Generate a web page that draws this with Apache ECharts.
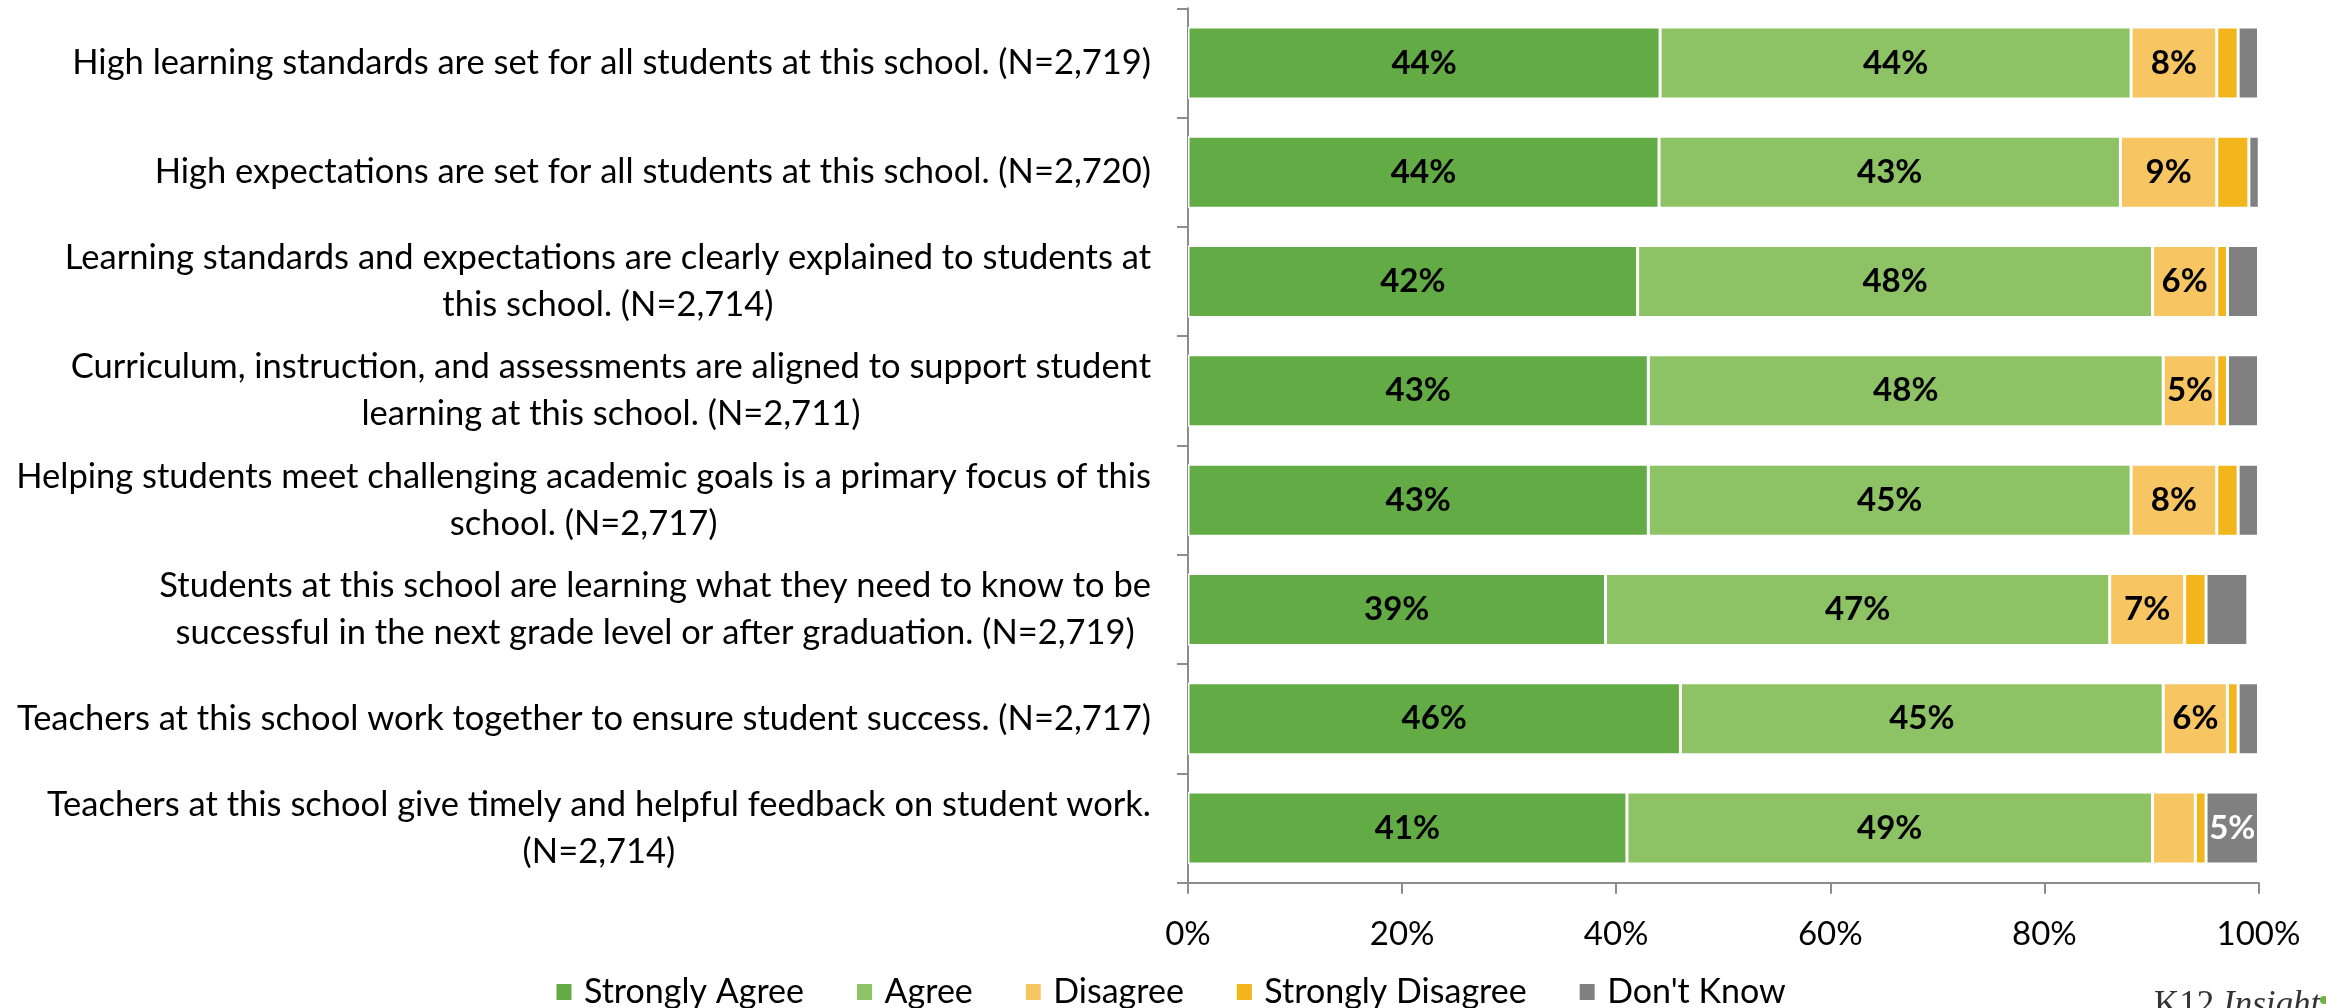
<!DOCTYPE html>
<html>
<head>
<meta charset="utf-8">
<script src="https://cdn.jsdelivr.net/npm/echarts@6/dist/echarts.min.js"></script>
<style>
  html, body { margin: 0; padding: 0; background: #fff; }
  #chart { width: 2326px; height: 1008px; }
</style>
</head>
<body>
<div id="chart"></div>
<script>
// ---- data ----
const categories = [
  "High learning standards are set for all students at this school. (N=2,719)",
  "High expectations are set for all students at this school. (N=2,720)",
  "Learning standards and expectations are clearly explained to students at\nthis school. (N=2,714)",
  "Curriculum, instruction, and assessments are aligned to support student\nlearning at this school. (N=2,711)",
  "Helping students meet challenging academic goals is a primary focus of this\nschool. (N=2,717)",
  "Students at this school are learning what they need to know to be\nsuccessful in the next grade level or after graduation. (N=2,719)",
  "Teachers at this school work together to ensure student success. (N=2,717)",
  "Teachers at this school give timely and helpful feedback on student work.\n(N=2,714)"
];
const seriesNames = ["Strongly Agree", "Agree", "Disagree", "Strongly Disagree", "Don't Know"];
const stronglyAgree    = [44.1, 44.0, 42.0, 43.0, 43.0, 39.0, 46.0, 41.0];
const agree            = [44.0, 43.1, 48.1, 48.1, 45.1, 47.1, 45.1, 49.1];
const disagree         = [8.0, 9.0, 6.0, 5.0, 8.0, 7.0, 6.0, 4.0];
const stronglyDisagree = [2.0, 3.0, 1.0, 1.0, 2.0, 2.0, 1.0, 1.0];
const dontKnow         = [1.9, 1.2, 2.9, 2.9, 1.9, 3.9, 1.9, 4.9];
const xTicks = [0, 20, 40, 60, 80, 100];

// ---- style ----
const FONT = 'Lato';
const colors = ['#62AB45', '#8DC365', '#F7C562', '#F2B61C', '#808080'];
const labelColors = ['#000', '#000', '#000', '#000', '#fff'];
const axisGray = '#8C8C8C';

const seriesData = [stronglyAgree, agree, disagree, stronglyDisagree, dontKnow];

const chart = echarts.init(document.getElementById('chart'), null, { renderer: 'canvas' });

const option = {
  animation: false,
  textStyle: { fontFamily: FONT },
  grid: { left: 1188, right: 67.5, top: 8.3, bottom: 1008 - 882.7, containLabel: false },
  xAxis: {
    type: 'value',
    min: xTicks[0],
    max: xTicks[xTicks.length - 1],
    interval: 20,
    axisLine: { show: true, lineStyle: { color: axisGray, width: 2 } },
    axisTick: { show: true, length: 11, lineStyle: { color: axisGray, width: 2 } },
    splitLine: { show: false },
    axisLabel: {
      margin: 35,
      color: '#000',
      fontFamily: FONT,
      fontSize: 33,
      formatter: v => v + '%'
    }
  },
  yAxis: {
    type: 'category',
    inverse: true,
    data: categories,
    axisLine: { show: true, lineStyle: { color: axisGray, width: 2 } },
    axisTick: { show: true, length: 11, lineStyle: { color: axisGray, width: 2 } },
    axisLabel: {
      margin: 37,
      color: '#000',
      align: 'right',
      formatter: v => v.split('\n').map(l => '{c|' + l + '}').join('\n'),
      rich: {
        c: { align: 'center', fontFamily: FONT, fontSize: 34.5, lineHeight: 47, color: '#000' }
      }
    }
  },
  legend: {
    left: 549.5,
    top: 970,
    itemWidth: 30,
    itemHeight: 18,
    itemGap: 51,
    icon: 'path://M0,0h17v18h-17z',
    textStyle: { fontFamily: FONT, fontSize: 34, color: '#000' },
    data: seriesNames
  },
  series: seriesNames.map((name, i) => ({
    name: name,
    type: 'bar',
    stack: 'total',
    barWidth: 72,
    data: seriesData[i],
    itemStyle: { color: colors[i], borderColor: '#fff', borderWidth: 1.5 },
    label: {
      show: true,
      position: 'inside',
      fontFamily: FONT,
      fontSize: 33,
      fontWeight: 'bold',
      color: labelColors[i],
      formatter: p => (p.value >= 4.5 ? Math.round(p.value) + '%' : '')
    }
  })),
  graphic: [
    {
      type: 'text',
      x: 2154,
      y: 1006,
      style: {
        text: '{a|K12 }{b|Insight}',
        verticalAlign: 'middle',
        align: 'left',
        rich: {
          a: { fontFamily: 'Liberation Serif', fontSize: 35, fill: '#333' },
          b: { fontFamily: 'Liberation Serif', fontStyle: 'italic', fontSize: 35, fill: '#333' }
        }
      }
    },
    {
      type: 'circle',
      shape: { cx: 2324, cy: 1000, r: 4 },
      style: { fill: '#6DB33F' }
    }
  ]
};

chart.setOption(option);
</script>
</body>
</html>
